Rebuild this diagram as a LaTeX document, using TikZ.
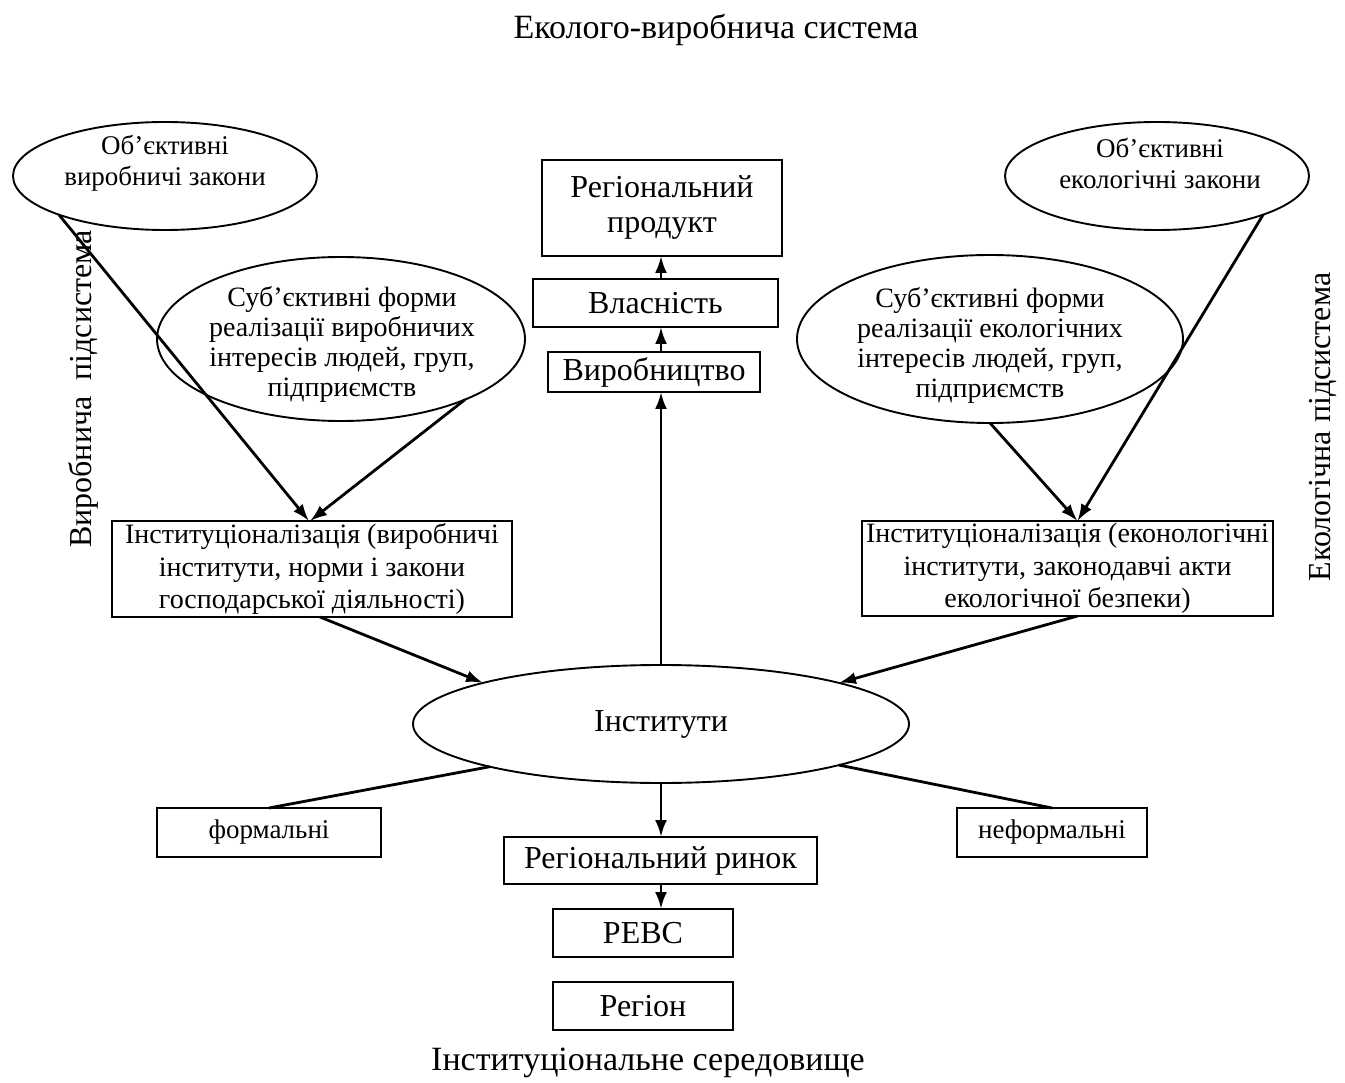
\documentclass[tikz,border=0pt]{standalone}
\usepackage{fontspec}
\setmainfont{Liberation Serif}
\usetikzlibrary{shapes.geometric,arrows.meta,calc}
\begin{document}
\begin{tikzpicture}[x=1pt,y=-1pt,
  ell/.style={ellipse,draw,line width=1.9pt,inner sep=0pt,outer sep=0pt},
  box/.style={rectangle,draw,line width=2.1pt,inner sep=0pt,outer sep=0pt,align=center},
  plain/.style={inner sep=0pt,outer sep=0pt,align=center},
  conn/.style={line width=2.8pt},
  arr/.style={conn,-{Latex[length=17pt,width=12pt]}},
  fbig/.style={font=\fontsize{34}{38}\selectfont},
  fmain/.style={font=\fontsize{32}{35}\selectfont},
  fbox/.style={font=\fontsize{28}{32.5}\selectfont},
  fell/.style={font=\fontsize{28}{30}\selectfont},
  fobj/.style={font=\fontsize{27}{31}\selectfont},
  fsmall/.style={font=\fontsize{27}{30}\selectfont}
]
\useasboundingbox (0,0) rectangle (1345,1083);

% titles
\node[plain,fbig] (title) at (716,30) {Еколого-виробнича система};
\node[plain,fbig] (bottom) at (648,1063) {Інституціональне середовище};
\node[plain,fmain,rotate=90] (lsub) at (83,389) {Виробнича\ \ підсистема};
\node[plain,fmain,rotate=90] (rsub) at (1323,427) {Екологічна підсистема};

% ellipses
\node[ell,minimum width=304pt,minimum height=108pt] (e1) at (165,176) {};
\node[plain,fobj] (t1) at (165,163) {Об’єктивні\\виробничі закони};
\node[ell,minimum width=304pt,minimum height=108pt] (e3) at (1157,176) {};
\node[plain,fobj] (t3) at (1160,163) {Об’єктивні\\екологічні закони};
\node[ell,minimum width=368pt,minimum height=164pt] (e2) at (341,339) {};
\node[plain,fell] (t2) at (342,344) {Суб’єктивні форми\\реалізації виробничих\\інтересів людей, груп,\\підприємств};
\node[ell,minimum width=386pt,minimum height=168pt] (e4) at (990,339) {};
\node[plain,fell] (t4) at (990,345) {Суб’єктивні форми\\реалізації екологічних\\інтересів людей, груп,\\підприємств};
\node[ell,fmain,minimum width=496pt,minimum height=118pt] (inst) at (661,724) {Інститути};

% central column
\node[box,fmain,minimum width=240pt,minimum height=96pt] (prod) at (662,208) {Регіональний\\продукт};
\node[box,fmain,minimum width=245pt,minimum height=48pt] (vlas) at (655.5,303) {Власність};
\node[box,fmain,minimum width=212pt,minimum height=40pt] (vyr) at (654,372) {Виробництво};

% institutionalisation boxes
\node[box,fbox,minimum width=400pt,minimum height=96pt] (lbox) at (312,569) {Інституціоналізація (виробничі\\інститути, норми і закони\\господарської діяльності)};
\node[box,fbox,minimum width=411pt,minimum height=95pt] (rbox) at (1067.5,568.5) {Інституціоналізація (еконологічні\\інститути, законодавчі акти\\екологічної безпеки)};

% lower boxes
\node[box,fsmall,minimum width=224pt,minimum height=49pt] (form) at (269,832.5) {формальні};
\node[box,fsmall,minimum width=190pt,minimum height=49pt] (neform) at (1052,832.5) {неформальні};
\node[box,fmain,minimum width=313pt,minimum height=47pt] (rynok) at (660.5,860.5) {Регіональний ринок};
\node[box,fmain,minimum width=180pt,minimum height=48pt] (revs) at (643,933) {РЕВС};
\node[box,fmain,minimum width=180pt,minimum height=48pt] (region) at (643,1006) {Регіон};

% connectors
\draw[arr] (e1.200) -- ($(lbox.north)+(-3,0)$);
\draw[arr] (e2.334) -- ($(lbox.north)+(-2,0)$);
\draw[arr] (e3.340) -- ($(rbox.north)+(10,0)$);
\draw[arr] (e4.south) -- ($(rbox.north)+(10,0)$);
\draw[arr] ($(lbox.south)+(8,0)$) -- (inst.167);
\draw[arr] ($(rbox.south)+(10,0)$) -- (inst.13);
\draw[conn] (inst.194) -- (form.north);
\draw[conn] (inst.347) -- (neform.north);
\draw[arr] (inst.north) -- (inst.north |- vyr.south);
\draw[arr] (vyr.north -| inst.north) -- (inst.north |- vlas.south);
\draw[arr] (vlas.north -| inst.north) -- (inst.north |- prod.south);
\draw[arr] (inst.south) -- (inst.south |- rynok.north);
\draw[arr] (rynok.south -| inst.south) -- (inst.south |- revs.north);
\end{tikzpicture}
\end{document}
